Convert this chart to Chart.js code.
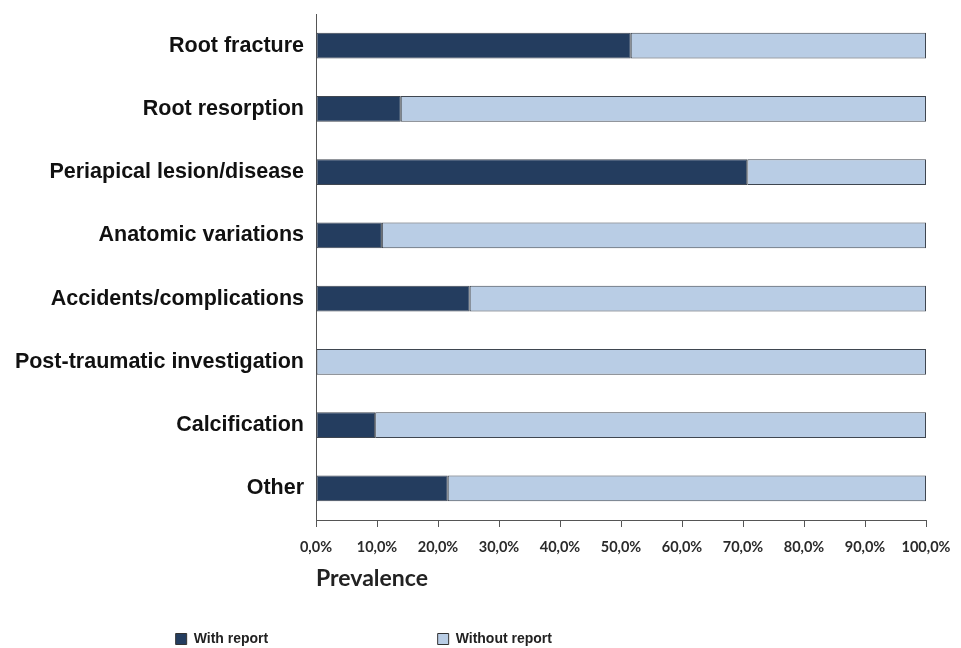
<!DOCTYPE html>
<html>
<head>
<meta charset="utf-8">
<script src="https://cdn.jsdelivr.net/npm/chart.js@4.4.0/dist/chart.umd.min.js"></script>
<style>
  html, body { margin: 0; padding: 0; background: #fff; }
  #wrap { width: 961px; height: 648px; }
</style>
</head>
<body>
<div id="wrap"><canvas id="chart"></canvas></div>
<script>
const categories = [
  'Root fracture',
  'Root resorption',
  'Periapical lesion/disease',
  'Anatomic variations',
  'Accidents/complications',
  'Post-traumatic investigation',
  'Calcification',
  'Other'
];
const withReport = [51.6, 13.9, 70.7, 10.8, 25.2, 0, 9.7, 21.6];
const withoutReport = [48.4, 86.1, 29.3, 89.2, 74.8, 100, 90.3, 78.4];
const tickValues = [0, 10, 20, 30, 40, 50, 60, 70, 80, 90, 100];

const darkBlue = '#243d5f';
const lightBlue = '#b9cde5';
const edge = '#3f4650';

// legend items sit far apart in the original, pad the text with spaces
const legendGap = [41, 51];

var ctx = document.getElementById('chart').getContext('2d');
new Chart(ctx, {
  type: 'bar',
  data: {
    labels: categories,
    datasets: [{
      label: 'With report',
      data: withReport,
      backgroundColor: darkBlue,
      borderColor: edge,
      borderWidth: 1,
      borderSkipped: false,
      categoryPercentage: 1,
      barPercentage: 0.41
    }, {
      label: 'Without report',
      data: withoutReport,
      backgroundColor: lightBlue,
      borderColor: edge,
      borderWidth: 1,
      borderSkipped: false,
      categoryPercentage: 1,
      barPercentage: 0.41
    }]
  },
  options: {
    indexAxis: 'y',
    responsive: true,
    maintainAspectRatio: false,
    animation: false,
    layout: {
      padding: { top: 14, right: 35, bottom: -8, left: 0 }
    },
    scales: {
      x: {
        stacked: true,
        min: 0,
        max: 100,
        afterBuildTicks: scale => { scale.ticks = tickValues.map(v => ({ value: v })); },
        afterFit: scale => {
          scale.paddingLeft = 0;
          scale.paddingRight = 0;
        },
        ticks: {
          color: '#2a2a2a',
          padding: 12,
          font: { family: 'Lato', weight: 'bold', size: 14.5 },
          callback: v => v.toFixed(1).replace('.', ',') + '%'
        },
        grid: {
          drawOnChartArea: false,
          drawTicks: true,
          tickLength: 7,
          color: '#555'
        },
        border: { display: true, color: '#555', width: 1 },
        title: {
          display: true,
          text: 'Prevalence',
          align: 'start',
          color: '#222',
          padding: { top: -4, bottom: 30 },
          font: { family: 'Lato', weight: 'bold', size: 23 }
        }
      },
      y: {
        stacked: true,
        afterFit: scale => {
          scale.width = 316;
          scale.paddingTop = 0;
          scale.paddingBottom = 0;
        },
        ticks: {
          color: '#111',
          padding: 12,
          font: { family: 'Liberation Sans', weight: 'bold', size: 21.5 }
        },
        grid: { drawOnChartArea: false, drawTicks: false },
        border: { display: true, color: '#555', width: 1 }
      }
    },
    plugins: {
      tooltip: { enabled: false },
      legend: {
        position: 'bottom',
        labels: {
          boxWidth: 11,
          boxHeight: 11,
          padding: 10,
          color: '#222',
          font: { family: 'Liberation Sans', weight: 'bold', size: 14 },
          generateLabels: chart => {
            const items = Chart.defaults.plugins.legend.labels.generateLabels(chart);
            items.forEach((item, i) => {
              item.text = item.text + ' '.repeat(legendGap[i]);
              item.strokeStyle = '#333';
              item.lineWidth = 1;
            });
            return items;
          }
        }
      }
    }
  }
});
</script>
</body>
</html>
